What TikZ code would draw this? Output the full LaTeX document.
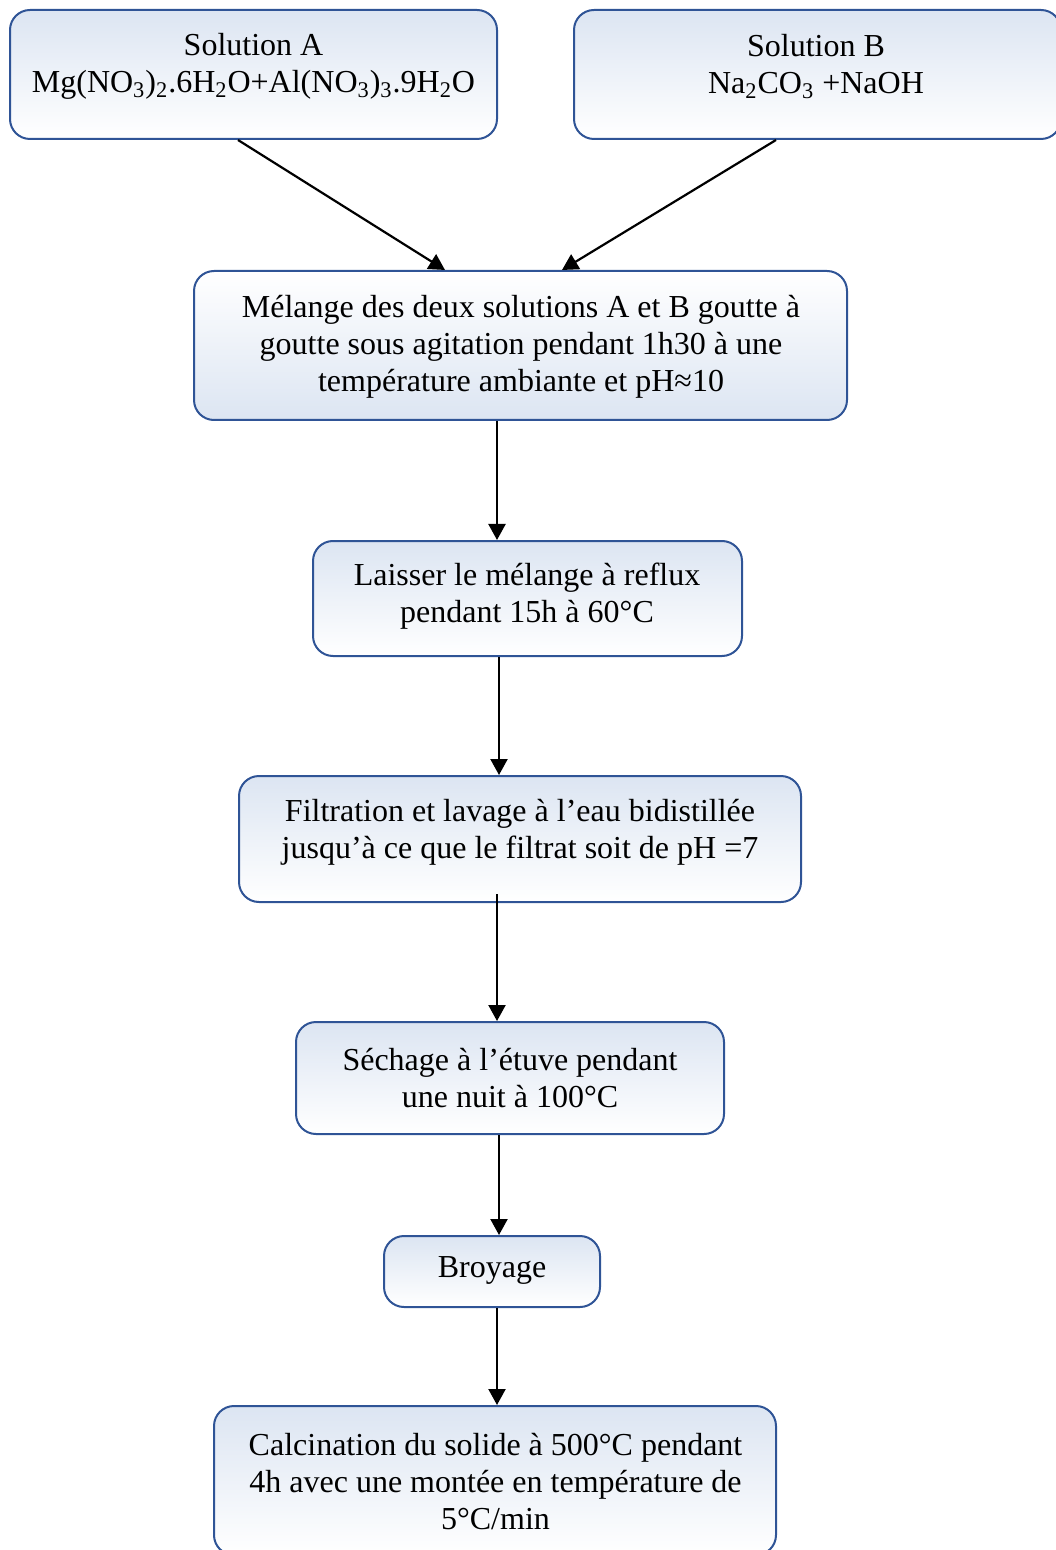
\documentclass[tikz,border=0pt]{standalone}
\usepackage{fontspec}
\setmainfont{Liberation Serif}
\usetikzlibrary{arrows.meta}

\definecolor{boxline}{RGB}{47,84,150}
\definecolor{boxfill}{RGB}{220,229,242}

\tikzset{
  box/.style={draw=boxline, line width=1pt, rounded corners=10pt,
    top color=boxfill, bottom color=white, inner sep=0pt},
  txt/.style={align=center, inner sep=0pt, font=\fontsize{16}{18.5}\selectfont},
  flow/.style={-{Triangle[width=8.5pt,length=8pt]}, line width=1.1pt}
}

\begin{document}
\begin{tikzpicture}[x=0.5pt, y=-0.5pt]
\useasboundingbox (0,0) rectangle (1055,1550);
\coordinate (axis) at (497,0);

% the two starting solutions
\node [box, minimum width=243.5pt, minimum height=64.5pt] (solA) at (253.5,74.5) {};
\node [txt] (solAtxt) at (253.5,66.5)
  {Solution A\\Mg(NO\textsubscript{3})\textsubscript{2}.6H\textsubscript{2}O+Al(NO\textsubscript{3})\textsubscript{3}.9H\textsubscript{2}O};
\node [box, minimum width=243.5pt, minimum height=64.5pt] (solB) at (817.5,74.5) {};
\node [txt] (solBtxt) at (816,66.5)
  {Solution B\\Na\textsubscript{2}CO\textsubscript{3} +NaOH};

% steps of the synthesis
\node [box, top color=white, bottom color=boxfill, minimum width=326.5pt, minimum height=74.5pt] (melange) at (520.5,345.5) {};
\node [txt] (melangetxt) at (521,347)
  {Mélange des deux solutions A et B goutte à\\goutte sous agitation pendant 1h30 à une\\température ambiante et pH≈10};

\node [box, minimum width=214.5pt, minimum height=57.5pt] (reflux) at (527.5,598.5) {};
\node [txt] (refluxtxt) at (527,596.5)
  {Laisser le mélange à reflux\\pendant 15h à 60°C};

\node [box, minimum width=281pt, minimum height=63pt] (filtr) at (520,839) {};
\node [txt] (filtrtxt) at (520,832)
  {Filtration et lavage à l’eau bidistillée\\jusqu’à ce que le filtrat soit de pH =7};

\node [box, minimum width=214pt, minimum height=56pt] (sechage) at (510,1078) {};
\node [txt] (sechagetxt) at (510,1078)
  {Séchage à l’étuve pendant\\une nuit à 100°C};

\node [box, minimum width=108pt, minimum height=35.5pt] (broyage) at (492,1271.5) {};
\node [txt] (broyagetxt) at (492,1270) {Broyage};

\node [box, minimum width=281pt, minimum height=74.5pt] (calc) at (495,1480.5) {};
\node [txt] (calctxt) at (495.5,1482)
  {Calcination du solide à 500°C pendant\\4h avec une montée en température de\\5°C/min};

% arrows
\draw [flow] ([xshift=-7.75pt]solA.south) -- ([xshift=-37.75pt]melange.north);
\draw [flow] ([xshift=-20.75pt]solB.south) -- ([xshift=20.75pt]melange.north);
\draw [flow] (melange.south -| axis) -- (reflux.north -| axis);
\draw [flow] ([xshift=1pt]reflux.south -| axis) -- ([xshift=1pt]filtr.north -| axis);
\draw [flow] ([yshift=4.5pt]filtr.south -| axis) -- (sechage.north -| axis);
\draw [flow] ([xshift=1pt]sechage.south -| axis) -- ([xshift=1pt]broyage.north -| axis);
\draw [flow] (broyage.south -| axis) -- (calc.north -| axis);
\end{tikzpicture}
\end{document}
